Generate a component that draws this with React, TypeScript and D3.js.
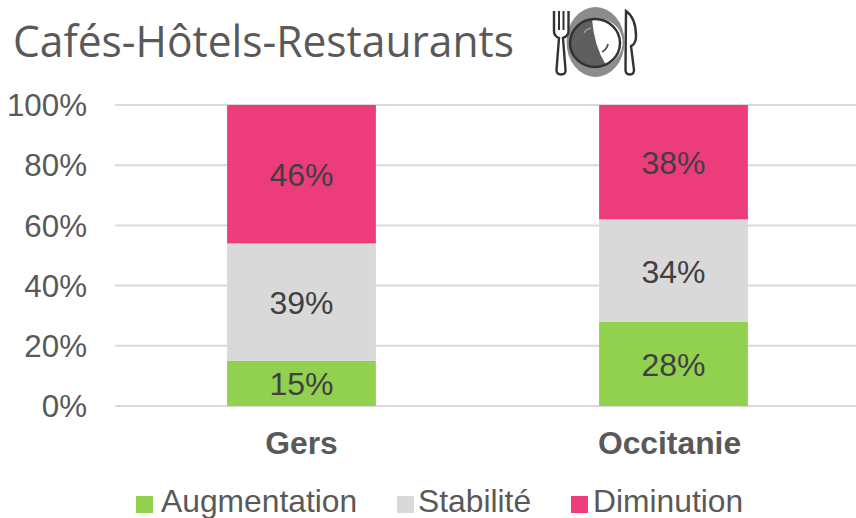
import React from "react";
import * as d3 from "d3";

const categories = ["Gers", "Occitanie"];
const seriesNames = ["Augmentation", "Stabilité", "Diminution"];
const augmentation = [15, 28];
const stabilite = [39, 34];
const diminution = [46, 38];
const colors = ["#92D050", "#D9D9D9", "#EC3C7C"];
const ticks = [0, 20, 40, 60, 80, 100];
const legendX = [136, 397, 571];
const legendTextX = [161, 418, 593];
const categoryLabelShift = [0, -4];

const W = 856, H = 518;
const rows = categories.map((c, i) => ({ cat: c, Augmentation: augmentation[i], "Stabilité": stabilite[i], Diminution: diminution[i] }));
const stack = d3.stack<any>().keys(seriesNames)(rows);
const x = d3.scaleBand<string>().domain(categories).range([115.5, 859.5]).paddingInner(0.6).paddingOuter(0.3);
const y = d3.scaleLinear().domain([0, 100]).range([406, 105]);
const SANS = "'Liberation Sans', Arial, sans-serif";
const TXT = "#595959";

export default function App() {
  return (
    <svg width={W} height={H} viewBox={`0 0 ${W} ${H}`} style={{ position: "absolute", left: 0, top: 0, background: "#fff" }}>
      <defs>
        <filter id="soft" x="-10%" y="-10%" width="120%" height="120%">
          <feGaussianBlur stdDeviation="0.6" />
        </filter>
      </defs>
      <text x={13} y={57} fontFamily="'Open Sans', sans-serif" fontSize={44} fill={TXT} textLength={501} lengthAdjust="spacingAndGlyphs">Cafés-Hôtels-Restaurants</text>

      <g filter="url(#soft)">
        <ellipse cx={595.5} cy={42} rx={29} ry={35} fill="#8C8C8C" />
        <ellipse cx={595} cy={43} rx={25} ry={24} fill="#5E5E5E" />
        <path d="M592 19 Q594 46 606 65 A25 24 0 0 0 592 19 Z" fill="#fff" />
        <ellipse cx={595} cy={43} rx={25} ry={24} fill="none" stroke="#333" strokeWidth={2.5} />
        <path d="M584 33 Q586 29 591 28" fill="none" stroke="#9A9A9A" strokeWidth={1.6} />
        <path d="M608 44 Q607 49 602 52" fill="none" stroke="#555" strokeWidth={1.8} />
        <path d="M554 11 V31 Q554 36 559 38 L556.5 70 Q556.5 74.5 561 74.5 Q566 74.5 565.5 70 L563 38 Q568.5 36 568.5 31 V11" fill="#fff" stroke="#333" strokeWidth={2.4} />
        <path d="M559 11 V30 M563.5 11 V30" stroke="#333" strokeWidth={2} />
        <path d="M626 11 Q636 18 636 36 Q636 44 631 46 L634 70 Q634 74.5 630 74.5 Q625.5 74.5 625.5 70 Z" fill="#fff" stroke="#333" strokeWidth={2.4} />
      </g>

      {ticks.map((t) => (
        <g key={t}>
          <line x1={115} x2={856} y1={y(t)} y2={y(t)} stroke="#D9D9D9" strokeWidth={2} />
          <text x={87} y={y(t)} dy="0.36em" textAnchor="end" fontFamily={SANS} fontSize={31.3} fill={TXT}>{t}%</text>
        </g>
      ))}

      {stack.map((s, si) => (
        <g key={s.key}>
          {s.map((d, i) => (
            <g key={i}>
              <rect x={x(categories[i])} width={x.bandwidth()} y={y(d[1])} height={y(d[0]) - y(d[1])} fill={colors[si]} />
              <text x={x(categories[i])! + x.bandwidth() / 2} y={(y(d[0]) + y(d[1])) / 2 + 0.5} dy="0.36em" textAnchor="middle" fontFamily={SANS} fontSize={32} fill="#404040">{d[1] - d[0]}%</text>
            </g>
          ))}
        </g>
      ))}

      {categories.map((c, i) => (
        <text key={c} x={x(c)! + x.bandwidth() / 2 + categoryLabelShift[i]} y={454} textAnchor="middle" fontFamily={SANS} fontWeight={700} fontSize={31.8} fill={TXT}>{c}</text>
      ))}

      {seriesNames.map((n, i) => (
        <g key={n}>
          <rect x={legendX[i]} y={496} width={17} height={17} fill={colors[i]} />
          <text x={legendTextX[i]} y={511.5} fontFamily={SANS} fontSize={31.8} fill={TXT}>{n}</text>
        </g>
      ))}
    </svg>
  );
}
